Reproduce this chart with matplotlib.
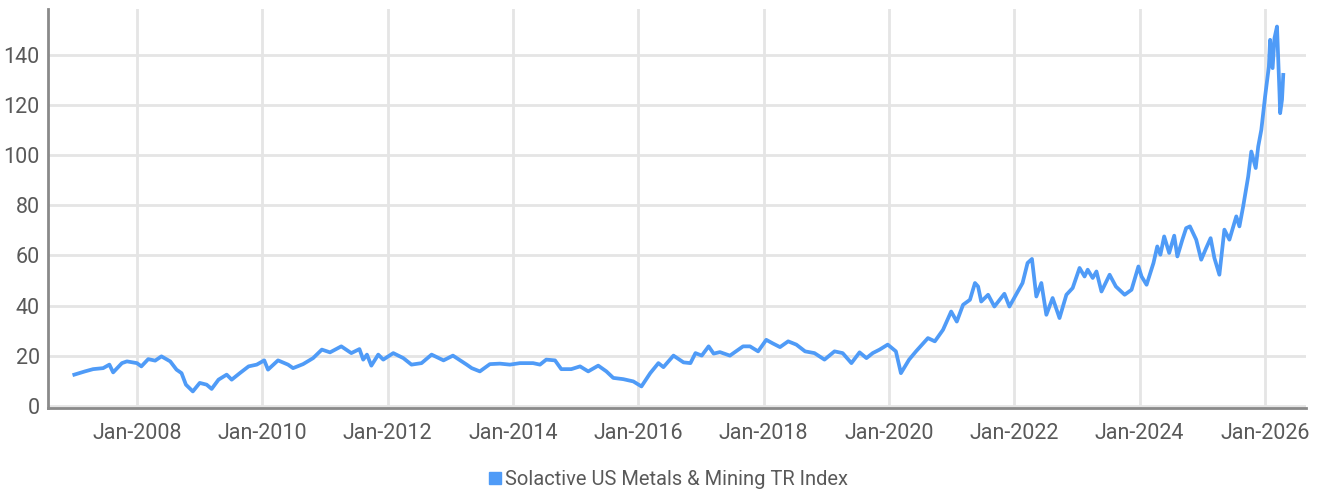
import matplotlib
matplotlib.use("Agg")
import matplotlib.pyplot as plt
import matplotlib.dates as mdates
from matplotlib.lines import Line2D
import pandas as pd
import numpy as np

series_name = "Solactive US Metals & Mining TR Index"

# decimal-year positions
years = [
    2007.00, 2007.17, 2007.30, 2007.46, 2007.56, 2007.62, 2007.76, 2007.84, 2008.00, 2008.07,
    2008.18, 2008.29, 2008.39, 2008.53, 2008.63, 2008.71, 2008.78, 2008.89, 2009.00, 2009.11,
    2009.19, 2009.30, 2009.43, 2009.51, 2009.64, 2009.78, 2009.91, 2010.03, 2010.09, 2010.25,
    2010.41, 2010.49, 2010.65, 2010.81, 2010.95, 2011.08, 2011.26, 2011.42, 2011.55, 2011.61,
    2011.67, 2011.74, 2011.85, 2011.93, 2012.09, 2012.25, 2012.38, 2012.54, 2012.70, 2012.89,
    2013.04, 2013.26, 2013.34, 2013.47, 2013.63, 2013.79, 2013.95, 2014.11, 2014.32, 2014.43,
    2014.53, 2014.67, 2014.77, 2014.93, 2015.07, 2015.20, 2015.36, 2015.49, 2015.60, 2015.76,
    2015.92, 2016.05, 2016.19, 2016.32, 2016.40, 2016.56, 2016.72, 2016.83, 2016.91, 2017.01,
    2017.12, 2017.20, 2017.30, 2017.46, 2017.67, 2017.78, 2017.91, 2018.04, 2018.15, 2018.26,
    2018.39, 2018.52, 2018.66, 2018.81, 2018.97, 2019.13, 2019.26, 2019.40, 2019.53, 2019.64,
    2019.74, 2019.85, 2019.98, 2020.11, 2020.19, 2020.32, 2020.43, 2020.62, 2020.73, 2020.86,
    2020.99, 2021.08, 2021.18, 2021.29, 2021.37, 2021.42, 2021.47, 2021.58, 2021.68, 2021.84,
    2021.92, 2022.04, 2022.13, 2022.21, 2022.28, 2022.35, 2022.43, 2022.51, 2022.61, 2022.72,
    2022.83, 2022.93, 2023.04, 2023.12, 2023.17, 2023.25, 2023.31, 2023.39, 2023.52, 2023.62,
    2023.76, 2023.87, 2023.98, 2024.03, 2024.11, 2024.22, 2024.28, 2024.33, 2024.39, 2024.47,
    2024.55, 2024.60, 2024.68, 2024.74, 2024.80, 2024.90, 2024.98, 2025.06, 2025.13, 2025.19,
    2025.27, 2025.35, 2025.43, 2025.54, 2025.59, 2025.65, 2025.73, 2025.78, 2025.85, 2025.89,
    2025.94, 2026.00, 2026.06, 2026.08, 2026.12, 2026.15, 2026.19, 2026.21, 2026.23, 2026.24,
    2026.27, 2026.29,
]

values = [
    12.4, 13.7, 14.6, 15.0, 16.4, 13.3, 17.0, 17.7, 17.0, 15.7,
    18.6, 18.0, 19.7, 17.7, 14.4, 13.0, 8.4, 5.7, 9.1, 8.4,
    6.7, 10.4, 12.4, 10.4, 13.0, 15.7, 16.4, 18.1, 14.4, 18.1,
    16.4, 15.0, 16.6, 19.0, 22.4, 21.3, 23.7, 21.0, 22.6, 18.4,
    20.4, 16.0, 20.4, 18.4, 21.0, 19.0, 16.4, 17.0, 20.4, 18.1,
    20.0, 16.4, 15.0, 13.7, 16.6, 16.8, 16.4, 17.0, 17.0, 16.4,
    18.4, 18.1, 14.6, 14.6, 15.7, 13.7, 16.0, 13.7, 11.1, 10.6,
    9.7, 7.7, 13.0, 17.0, 15.4, 20.0, 17.3, 17.0, 21.0, 20.0,
    23.7, 20.8, 21.4, 20.0, 23.7, 23.7, 21.7, 26.3, 24.8, 23.4,
    25.7, 24.4, 21.7, 21.0, 18.4, 21.7, 21.0, 17.0, 21.3, 19.0,
    21.0, 22.4, 24.4, 21.7, 13.0, 18.4, 21.7, 27.0, 25.7, 30.3,
    37.6, 33.6, 40.3, 42.3, 49.0, 47.6, 41.6, 44.3, 39.6, 44.7,
    39.6, 45.0, 49.0, 57.0, 58.6, 43.6, 49.0, 36.3, 43.0, 35.0,
    44.3, 47.0, 55.0, 51.6, 54.3, 51.0, 53.6, 45.6, 52.3, 47.6,
    44.3, 46.3, 55.6, 51.6, 48.3, 57.0, 63.6, 60.3, 67.6, 61.0,
    67.9, 59.6, 66.3, 70.9, 71.6, 66.3, 58.3, 63.0, 66.9, 59.0,
    52.3, 70.3, 66.3, 75.6, 71.6, 79.6, 91.5, 101.5, 94.9, 103.5,
    110.2, 123.5, 135.4, 146.1, 134.8, 146.8, 151.4, 138.1, 124.8, 116.8,
    122.2, 132.1,
]

y_ticks = [0, 20, 40, 60, 80, 100, 120, 140]
x_tick_years = [2008, 2010, 2012, 2014, 2016, 2018, 2020, 2022, 2024, 2026]


def to_date(y):
    yr = int(np.floor(y))
    start = pd.Timestamp(year=yr, month=1, day=1)
    end = pd.Timestamp(year=yr + 1, month=1, day=1)
    return start + (end - start) * (y - yr)


dates = [to_date(y) for y in years]

plt.rcParams['font.family'] = ['Roboto', 'DejaVu Sans']

fig = plt.figure(figsize=(13.19, 4.93), dpi=100)
ax = fig.add_axes([0.0364, 0.172, 0.9536, 0.8097])

line_color = "#4f9bf7"
grid_color = "#e5e5e5"
text_color = "#595959"

ax.plot(dates, values, color=line_color, linewidth=2.7, solid_joinstyle='round', zorder=3)

ax.set_ylim(-1, 158.4)
ax.set_xlim(to_date(2006.58), to_date(2026.65))
ax.set_yticks(y_ticks)
ax.set_xticks([pd.Timestamp(year=y, month=1, day=1) for y in x_tick_years])
ax.xaxis.set_major_formatter(mdates.DateFormatter('%b-%Y'))

ax.grid(True, color=grid_color, linewidth=2, zorder=0)
ax.set_axisbelow(True)

for s in ['top', 'right']:
    ax.spines[s].set_visible(False)
for s in ['left', 'bottom']:
    ax.spines[s].set_color('#8a8a8a')
    ax.spines[s].set_linewidth(2)

ax.tick_params(axis='both', length=0, labelsize=15.5, colors=text_color)
ax.tick_params(axis='y', pad=6)
ax.tick_params(axis='x', pad=11)

handle = Line2D([], [], linestyle='none', marker='s', markersize=8,
                markerfacecolor=line_color, markeredgecolor=line_color)
fig.legend([handle], [series_name], loc='center', bbox_to_anchor=(0.506, 0.027),
           frameon=False, handletextpad=0.1, handlelength=0.8,
           labelcolor=text_color, prop={'size': 14.5})

fig.savefig("out.png", dpi=100)
